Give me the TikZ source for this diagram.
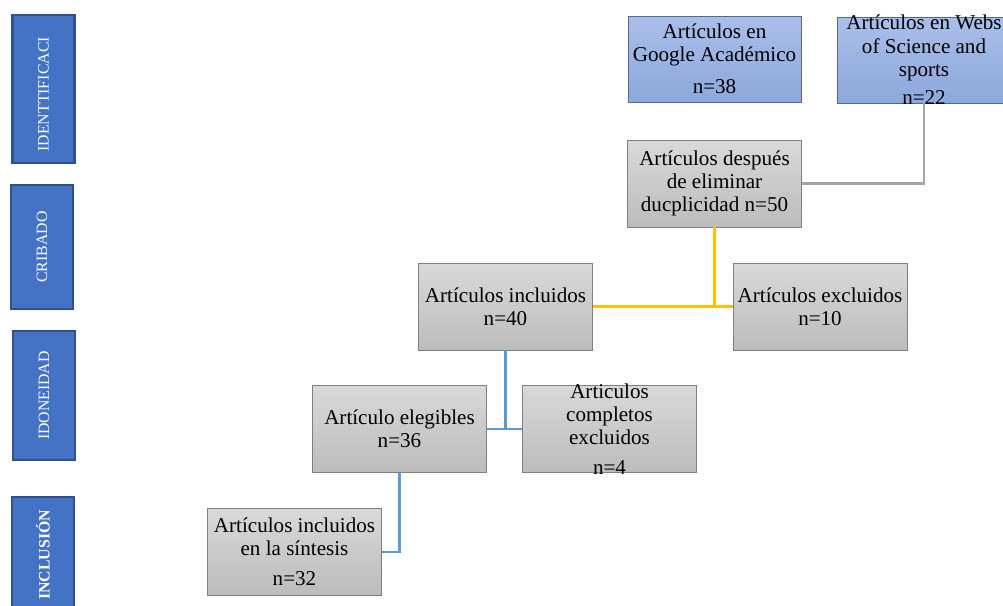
\documentclass[tikz,border=0pt]{standalone}
\usepackage{fontspec}
\setmainfont{Liberation Serif}
\definecolor{phasefill}{HTML}{4472C4}
\definecolor{phaseline}{HTML}{2F528F}
\definecolor{bluetop}{HTML}{AABEEA}
\definecolor{bluebot}{HTML}{8DA8DB}
\definecolor{blueline}{HTML}{55688F}
\definecolor{graytop}{HTML}{D9D9D9}
\definecolor{graybot}{HTML}{BCBCBC}
\definecolor{grayline}{HTML}{7F7F7F}
\definecolor{linkgray}{HTML}{A5A5A5}
\definecolor{linkyellow}{HTML}{FFC000}
\definecolor{linkblue}{HTML}{5B9BD5}
\begin{document}
\begin{tikzpicture}[x=0.02cm, y=-0.02cm,
    phase/.style={draw=phaseline, line width=1.4pt, fill=phasefill, text=white,
        font=\fontsize{9}{10}\selectfont, minimum width=1.24cm, inner sep=0pt},
    bluebox/.style={draw=blueline, top color=bluetop, bottom color=bluebot,
        minimum width=3.46cm, minimum height=1.72cm, inner sep=0pt},
    graybox/.style={draw=grayline, top color=graytop, bottom color=graybot,
        minimum width=3.48cm, minimum height=1.74cm, inner sep=0pt},
    boxtext/.style={align=center, inner sep=0pt, font=\fontsize{12}{13.2}\selectfont},
    link/.style={line width=1.5pt}
]
\useasboundingbox (0,0) rectangle (1003,605);
% fases
\node[phase, minimum height=2.96cm] (ident) at (43.5,89) {\rotatebox{90}{IDENTTIFICACI\hspace*{6pt}}};
\node[phase, minimum height=2.48cm] (crib) at (42,247) {\rotatebox{90}{CRIBADO}};
\node[phase, minimum height=2.58cm] (idon) at (44,395.5) {\rotatebox{90}{IDONEIDAD}};
\node[phase, minimum height=2.56cm] (incl) at (43,561) {\rotatebox{90}{\hspace*{7pt}\textbf{INCLUSIÓN}}};
% cajas
\node[bluebox] (google) at (714.5,59) {};
\node[boxtext] (googleT) at (google) {Artículos en\\Google Académico\\[5pt]n=38};
\node[bluebox] (webs) at (924,60) {};
\node[boxtext] (websT) at (webs) {Artículos en Webs\\of Science and\\sports\\[3pt]n=22};
\node[graybox, boxtext] (desp) at (714.5,183.5) {Artículos después\\de eliminar\\ducplicidad n=50};
\node[graybox, boxtext] (inclu) at (505.5,306.5) {Artículos incluidos\\n=40};
\node[graybox, boxtext] (exclu) at (820,306.5) {Artículos excluidos\\n=10};
\node[graybox, boxtext] (eleg) at (399.5,429) {Artículo elegibles\\n=36};
\node[graybox] (compl) at (609.5,429) {};
\node[boxtext] (complT) at (compl) {Articulos\\completos\\excluidos\\[4pt]n=4};
\node[graybox, boxtext] (sint) at (294.5,552) {Artículos incluidos\\en la síntesis\\[4pt]n=32};
% conectores
\draw[link, linkgray] (webs.south) |- (desp.east);
\draw[link, linkyellow] (desp.south) -- (desp.south |- inclu.east);
\draw[link, linkyellow] (inclu.east) -- (exclu.west);
\draw[link, linkblue] (inclu.south) -- (inclu.south |- eleg.east);
\draw[link, linkblue] (eleg.east) -- (compl.west);
\draw[link, linkblue] (eleg.south) |- (sint.east);
\end{tikzpicture}
\end{document}
